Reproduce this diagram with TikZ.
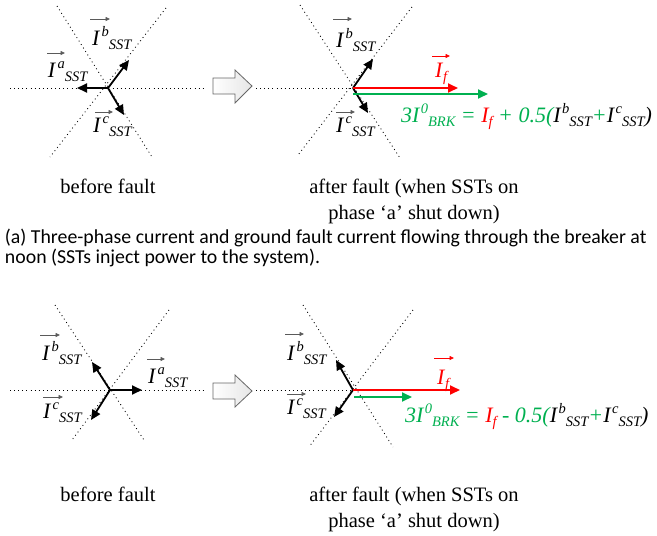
\documentclass[tikz,border=0pt]{standalone}
\usepackage{fontspec}
\setmainfont{Liberation Serif}
\newfontfamily\capfont{Carlito}
\usetikzlibrary{arrows.meta}
\definecolor{myred}{RGB}{255,0,0}
\definecolor{mygreen}{RGB}{0,176,80}
\definecolor{labgray}{RGB}{90,90,90}
\newcommand{\sscr}[1]{{\fontsize{14.5}{14.5}\selectfont\itshape #1}}
\newcommand{\Iph}[2]{\textit{I}\kern1.5pt\raisebox{9pt}{\sscr{#1}}\raisebox{-4.5pt}{\sscr{#2}}}
\newcommand{\Isub}[1]{\textit{I}\raisebox{-4.5pt}{\sscr{#1}}}
\begin{document}
\begin{tikzpicture}[x=1pt,y=-1pt,
  every node/.style={inner sep=0pt, outer sep=0pt},
  lab/.style={anchor=base west, font=\fontsize{22}{22}\selectfont},
  axisline/.style={dash pattern=on 0.9pt off 3.2pt, line width=0.85pt},
  phasor/.style={line width=1.8pt, -{Triangle[length=10pt,width=9pt]}},
  ovarr/.style={labgray, line width=0.8pt, -{Triangle[length=4.5pt,width=4pt]}},
  blockarr/.style={draw=gray!80!black, line width=0.8pt, left color=white, right color=gray!20},
  captxt/.style={anchor=base, font=\fontsize{20.5}{26}\selectfont},
  capsans/.style={anchor=base west, font=\capfont\fontsize{19.8}{20}\selectfont},
]
\useasboundingbox (0,0) rectangle (657,536);

% ---------------- (a) left ----------------
\coordinate (A) at (108,88);
\draw[axisline] (10,88) -- (205,88);
\draw[axisline] (57,6) -- (152,157);
\draw[axisline] (166,8) -- (50,157);
\coordinate (Aa) at (77,88);
\coordinate (Ab) at (129,60);
\coordinate (Ac) at (124,115);
\draw[phasor] (A) -- (Aa);
\draw[phasor] (A) -- (Ab);
\draw[phasor] (A) -- (Ac);
\node[lab] (l1b) at (92,45) {\Iph{b}{SST}};
\draw[ovarr] ([shift={(-2,-26)}]l1b.base west) -- ++(20,0);
\node[lab] (l1a) at (48,77) {\Iph{a}{SST}};
\draw[ovarr] ([shift={(-1,-24)}]l1a.base west) -- ++(18,0);
\node[lab] (l1c) at (93,132) {\Iph{c}{SST}};
\draw[ovarr] ([shift={(2,-20)}]l1c.base west) -- ++(18,0);

\draw[blockarr] (213,78) -- (235,78) -- (235,70) -- (252,86) -- (235,103) -- (235,94) -- (213,94) -- cycle;

% ---------------- (a) right ----------------
\coordinate (B) at (353,88);
\draw[axisline] (256,88) -- (353,88);
\draw[axisline] (300,5) -- (400,158);
\draw[axisline] (412,7) -- (298,155);
\coordinate (Bb) at (373,59);
\coordinate (Bc) at (368,113);
\coordinate (Bf) at (458,88);
\coordinate (Bg0) at (353,94);
\coordinate (Bg) at (488,94);
\draw[phasor] (B) -- (Bb);
\draw[phasor] (B) -- (Bc);
\draw[phasor, myred] (B) -- (Bf);
\draw[phasor, mygreen] (Bg0) -- (Bg);
\node[lab] (l2b) at (336,47) {\Iph{b}{SST}};
\draw[ovarr] ([shift={(-3,-28)}]l2b.base west) -- ++(19,0);
\node[lab, text=myred] (l2f) at (435,77) {\Isub{f}};
\draw[ovarr, myred] ([shift={(-3,-21)}]l2f.base west) -- ++(18,0);
\node[lab] (l2c) at (336,132) {\Iph{c}{SST}};
\draw[ovarr] ([shift={(0,-20)}]l2c.base west) -- ++(19,0);
\node[lab, text=mygreen, font=\fontsize{22}{22}\selectfont\itshape] (eq2) at (401,122)
  {3\Iph{0}{BRK} = \textcolor{myred}{\Isub{f}} + 0.5(\textcolor{black}{\Iph{b}{SST}}+\textcolor{black}{\Iph{c}{SST})}};

\node[captxt] (bf1) at (108,193) {before fault};
\node[captxt] (af1a) at (414,193) {after fault (when SSTs on};
\node[captxt] (af1b) at (414,219) {phase ‘a’ shut down)};
\node[capsans] (capa1) at (5,243) {(a) Three-phase current and ground fault current flowing through the breaker at};
\node[capsans] (capa2) at (5,263) {noon (SSTs inject power to the system).};

% ---------------- (b) left ----------------
\coordinate (C) at (110,390);
\draw[axisline] (10,390) -- (205,390);
\draw[axisline] (55,305) -- (144,440);
\draw[axisline] (169,310) -- (72,440);
\coordinate (Ca) at (142,390);
\coordinate (Cb) at (92,362);
\coordinate (Cc) at (91,420);
\draw[phasor] (C) -- (Ca);
\draw[phasor] (C) -- (Cb);
\draw[phasor] (C) -- (Cc);
\node[lab] (l3b) at (42,360) {\Iph{b}{SST}};
\draw[ovarr] ([shift={(-2,-25)}]l3b.base west) -- ++(20,0);
\node[lab] (l3a) at (148,383) {\Iph{a}{SST}};
\draw[ovarr] ([shift={(-1,-24)}]l3a.base west) -- ++(18,0);
\node[lab] (l3c) at (43,418) {\Iph{c}{SST}};
\draw[ovarr] ([shift={(0,-21)}]l3c.base west) -- ++(20,0);

\draw[blockarr] (213,383) -- (235,383) -- (235,375) -- (252,391) -- (235,407) -- (235,399) -- (213,399) -- cycle;

% ---------------- (b) right ----------------
\coordinate (D) at (353,390);
\draw[axisline] (256,390) -- (353,390);
\draw[axisline] (303,305) -- (393,447);
\draw[axisline] (413,310) -- (309,447);
\coordinate (Db) at (336,360);
\coordinate (Dc) at (334,417);
\coordinate (Df) at (460,390);
\coordinate (Dg0) at (354,397);
\coordinate (Dg) at (412,397);
\draw[phasor] (D) -- (Db);
\draw[phasor] (D) -- (Dc);
\draw[phasor, myred] (D) -- (Df);
\draw[phasor, mygreen] (Dg0) -- (Dg);
\node[lab] (l4b) at (287,360) {\Iph{b}{SST}};
\draw[ovarr] ([shift={(-2,-26)}]l4b.base west) -- ++(19,0);
\node[lab] (l4c) at (287,414) {\Iph{c}{SST}};
\draw[ovarr] ([shift={(0,-20)}]l4c.base west) -- ++(19,0);
\node[lab, text=myred] (l4f) at (437,384) {\Isub{f}};
\draw[ovarr, myred] ([shift={(-3,-26)}]l4f.base west) -- ++(20,0);
\node[lab, text=mygreen, font=\fontsize{22}{22}\selectfont\itshape] (eq4) at (405,422)
  {3\Iph{0}{BRK} = \textcolor{myred}{\Isub{f}} - 0.5(\textcolor{black}{\Iph{b}{SST}}+\textcolor{black}{\Iph{c}{SST})}};

\node[captxt] (bf2) at (108,501) {before fault};
\node[captxt] (af2a) at (414,501) {after fault (when SSTs on};
\node[captxt] (af2b) at (414,527) {phase ‘a’ shut down)};
\end{tikzpicture}
\end{document}
